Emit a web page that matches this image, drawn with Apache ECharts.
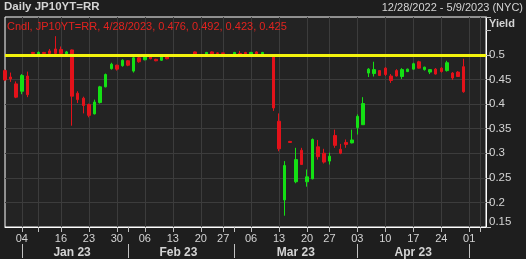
<!DOCTYPE html>
<html><head><meta charset="utf-8">
<script src="https://cdn.jsdelivr.net/npm/echarts@6/dist/echarts.min.js"></script>
<style>html,body{margin:0;padding:0;background:#1e1e1e;}#c{width:526px;height:259px;}</style>
</head><body><div id="c"></div>
<script>
// ---- data ----
const ric = 'JP10YT=RR';
const headerTitle = 'Daily JP10YT=RR';
const rangeText = '12/28/2022 - 5/9/2023 (NYC)';
const axisName = 'Yield';
const capLevel = 0.5;
const dates = [
 '2022-12-28','2022-12-29','2022-12-30',
 '2023-01-04','2023-01-05','2023-01-06',
 '2023-01-10','2023-01-11','2023-01-12','2023-01-13',
 '2023-01-16','2023-01-17','2023-01-18','2023-01-19','2023-01-20',
 '2023-01-23','2023-01-24','2023-01-25','2023-01-26','2023-01-27',
 '2023-01-30','2023-01-31','2023-02-01','2023-02-02','2023-02-03',
 '2023-02-06','2023-02-07','2023-02-08','2023-02-09','2023-02-10',
 '2023-02-13','2023-02-14','2023-02-15','2023-02-16','2023-02-17',
 '2023-02-20','2023-02-21','2023-02-22','2023-02-24',
 '2023-02-27','2023-02-28','2023-03-01','2023-03-02','2023-03-03',
 '2023-03-06','2023-03-07','2023-03-08','2023-03-09','2023-03-10',
 '2023-03-13','2023-03-14','2023-03-15','2023-03-16','2023-03-17',
 '2023-03-20','2023-03-22','2023-03-23','2023-03-24',
 '2023-03-27','2023-03-28','2023-03-29','2023-03-30','2023-03-31',
 '2023-04-03','2023-04-04','2023-04-05','2023-04-06','2023-04-07',
 '2023-04-10','2023-04-11','2023-04-12','2023-04-13','2023-04-14',
 '2023-04-17','2023-04-18','2023-04-19','2023-04-20','2023-04-21',
 '2023-04-24','2023-04-25','2023-04-26','2023-04-27','2023-04-28',
 '2023-05-01','2023-05-02','2023-05-08','2023-05-09'
];
const opens = [
 0.468,0.455,0.441,0.426,0.457,0.505,0.502,0.505,0.508,0.512,
 0.511,0.502,0.510,0.422,0.412,0.399,0.380,0.403,0.435,0.472,
 0.479,0.478,0.488,0.467,0.494,0.490,0.497,0.491,0.489,0.497,
 0.499,0.500,0.499,0.500,0.506,0.500,0.501,0.506,0.504,0.504,
 0.500,0.501,0.503,0.505,0.502,0.506,0.502,0.500,0.498,0.365,
 0.205,0.324,0.242,0.306,0.242,0.248,0.313,0.300,0.284,0.336,
 0.308,0.322,0.321,0.352,0.358,0.463,0.462,0.468,0.473,0.457,
 0.468,0.456,0.466,0.471,0.486,0.470,0.465,0.471,0.473,0.468,
 0.463,0.465,0.476
];
const closes = [
 0.449,0.451,0.414,0.458,0.419,0.503,0.505,0.503,0.503,0.503,
 0.503,0.506,0.416,0.409,0.397,0.377,0.404,0.435,0.460,0.481,
 0.471,0.489,0.479,0.494,0.486,0.496,0.492,0.488,0.496,0.492,
 0.500,0.499,0.500,0.499,0.502,0.500,0.505,0.502,0.503,0.503,
 0.499,0.505,0.502,0.502,0.505,0.502,0.505,0.499,0.392,0.309,
 0.275,0.322,0.287,0.277,0.252,0.328,0.293,0.282,0.294,0.316,
 0.300,0.318,0.327,0.375,0.401,0.471,0.470,0.458,0.460,0.448,
 0.457,0.470,0.471,0.482,0.473,0.475,0.470,0.461,0.466,0.484,
 0.453,0.456,0.425
];
const lows = [
 0.447,0.445,0.412,0.420,0.414,0.499,0.499,0.500,0.500,0.499,
 0.502,0.500,0.356,0.402,0.381,0.373,0.379,0.401,0.434,0.470,
 0.468,0.476,0.477,0.464,0.484,0.489,0.491,0.487,0.488,0.491,
 0.498,0.498,0.498,0.498,0.499,0.499,0.499,0.499,0.500,0.500,
 0.498,0.499,0.502,0.500,0.499,0.499,0.499,0.498,0.386,0.304,
 0.173,0.322,0.239,0.277,0.232,0.247,0.287,0.279,0.277,0.311,
 0.298,0.311,0.320,0.338,0.358,0.455,0.456,0.457,0.457,0.443,
 0.456,0.451,0.465,0.470,0.472,0.468,0.461,0.460,0.464,0.466,
 0.449,0.455,0.423
];
const highs = [
 0.470,0.464,0.446,0.461,0.466,0.506,0.507,0.506,0.512,0.538,
 0.517,0.508,0.511,0.426,0.415,0.401,0.409,0.437,0.462,0.484,
 0.480,0.491,0.489,0.496,0.496,0.497,0.498,0.492,0.497,0.498,
 0.501,0.501,0.501,0.501,0.507,0.501,0.506,0.507,0.505,0.504,
 0.501,0.506,0.508,0.506,0.506,0.507,0.506,0.501,0.501,0.381,
 0.284,0.325,0.311,0.311,0.267,0.330,0.327,0.309,0.301,0.348,
 0.319,0.328,0.348,0.379,0.414,0.473,0.486,0.469,0.475,0.461,
 0.471,0.473,0.472,0.484,0.488,0.476,0.471,0.473,0.475,0.488,
 0.465,0.467,0.492
];
const weekTickDates = ['2023-01-04','2023-01-10','2023-01-16','2023-01-23','2023-01-30','2023-02-06','2023-02-13','2023-02-20','2023-02-27','2023-03-06','2023-03-13','2023-03-20','2023-03-27','2023-04-03','2023-04-10','2023-04-17','2023-04-24','2023-05-01','2023-05-08'];
const dayLabelDates = ['2023-01-04','2023-01-16','2023-01-23','2023-01-30','2023-02-06','2023-02-13','2023-02-20','2023-02-27','2023-03-06','2023-03-13','2023-03-20','2023-03-27','2023-04-03','2023-04-10','2023-04-17','2023-04-24','2023-05-01'];
const monthNames = ['Jan','Feb','Mar','Apr','May','Jun','Jul','Aug','Sep','Oct','Nov','Dec'];

// ---- derived ----
const last = closes.length - 1;
const weekSet = new Set(weekTickDates.map(d => dates.indexOf(d)));
const labelSet = new Set(dayLabelDates.map(d => dates.indexOf(d)));
const monthStartSet = new Set();
const monthGroups = {};
dates.forEach((d, i) => {
  const k = d.slice(0, 7);
  if (i > 0 && k !== dates[i - 1].slice(0, 7)) monthStartSet.add(i);
  (monthGroups[k] = monthGroups[k] || []).push(i);
});
const tickSet = new Set([...weekSet, ...monthStartSet]);
const monthLabelMap = new Map();
Object.keys(monthGroups).forEach(k => {
  const g = monthGroups[k];
  if (g.length >= 10) {
    const mid = Math.round((g[0] + g[g.length - 1]) / 2);
    monthLabelMap.set(mid, monthNames[+k.slice(5, 7) - 1] + ' ' + k.slice(2, 4));
  }
});
function usDate(d) { return (+d.slice(5, 7)) + '/' + (+d.slice(8, 10)) + '/' + d.slice(0, 4); }
const legendText = 'Cndl, ' + ric + ', ' + usDate(dates[last]) + ', ' +
  [opens[last], highs[last], lows[last], closes[last]].map(v => v.toFixed(3)).join(', ');
const candleData = opens.map((o, i) => [o, closes[i], lows[i], highs[i]]);

const UP = '#14e014', DOWN = '#e3121a', TXT = '#d4d4d4', TICK = '#c0c0c0';
const FONT = 'Liberation Sans';
const chart = echarts.init(document.getElementById('c'), null, {renderer: 'canvas'});
chart.setOption({
  backgroundColor: '#1e1e1e',
  animation: false,
  textStyle: {fontFamily: FONT},
  title: [
    {text: headerTitle, left: 4, top: 1, padding: 0, textStyle: {color: TXT, fontSize: 11.5, fontWeight: 'bold', fontFamily: FONT}},
    {text: rangeText, right: 3, top: 2, padding: 0, textStyle: {color: TXT, fontSize: 11, fontWeight: 'normal', fontFamily: FONT}},
    {text: legendText, left: 7, top: 21, padding: 0, textStyle: {color: '#e3231f', fontSize: 11, fontWeight: 'normal', fontFamily: FONT}},
    {text: axisName, left: 489, top: 18, padding: 0, textStyle: {color: TXT, fontSize: 11, fontWeight: 'bold', fontFamily: FONT}}
  ],
  grid: {left: 5, right: 40, top: 17, bottom: 31, show: true, backgroundColor: '#232323', borderColor: '#ffffff', borderWidth: 1},
  xAxis: [
    {
      type: 'category', data: dates, boundaryGap: false, gridIndex: 0,
      axisLine: {show: true, lineStyle: {color: '#ffffff'}},
      axisTick: {show: true, interval: (i) => tickSet.has(i), length: 5, lineStyle: {color: TICK}},
      axisLabel: {interval: (i) => labelSet.has(i), formatter: (v) => v.slice(8, 10), color: TXT, fontSize: 11, margin: 6, fontFamily: FONT},
      splitLine: {show: true, interval: (i) => weekSet.has(i), lineStyle: {color: '#3c3c3c'}}
    },
    {
      type: 'category', data: dates, boundaryGap: false, gridIndex: 0, position: 'bottom', offset: 17,
      axisLine: {show: false},
      axisTick: {show: true, interval: (i) => monthStartSet.has(i), length: 14, lineStyle: {color: TICK}},
      axisLabel: {interval: (i) => monthLabelMap.has(i), formatter: (v, i) => monthLabelMap.get(i) || '', color: TXT, fontSize: 12, fontWeight: 'bold', margin: 3, fontFamily: FONT},
      splitLine: {show: false}
    }
  ],
  yAxis: {
    type: 'value', position: 'right', min: 0.15, max: 0.577, interval: 0.05,
    axisLine: {show: true, lineStyle: {color: '#ffffff'}},
    axisTick: {show: true, length: 5, lineStyle: {color: TICK}},
    axisLabel: {
      color: TXT, fontSize: 11.5, margin: 3, fontFamily: FONT,
      formatter: (v) => {
        if (v > capLevel + 0.0001) return '';
        const s = String(+v.toFixed(2));
        return v < 0.151 ? '{lo|' + s + '}' : s;
      },
      rich: {lo: {color: TXT, fontSize: 11.5, fontFamily: FONT, padding: [0, 0, 10, 0]}}
    },
    splitLine: {show: true, lineStyle: {color: ['#3c3c3c','#3c3c3c','#3c3c3c','#3c3c3c','#3c3c3c','#3c3c3c','#3c3c3c','#3c3c3c','rgba(0,0,0,0)','rgba(0,0,0,0)']}}
  },
  series: [{
    type: 'candlestick', name: ric, xAxisIndex: 0, yAxisIndex: 0, barWidth: 3, clip: false,
    data: candleData,
    itemStyle: {color: UP, color0: DOWN, borderColor: UP, borderColor0: DOWN, borderColorDoji: DOWN, borderWidth: 1},
    markLine: {
      silent: true, symbol: ['none', 'none'], animation: false,
      data: [
        {yAxis: capLevel, lineStyle: {color: '#f2f20c', width: 3, type: 'solid'}, label: {show: false}},
        {yAxis: closes[last], lineStyle: {opacity: 0, width: 0}, label: {
          show: true, position: 'end', distance: 1, formatter: () => closes[last].toFixed(3),
          backgroundColor: '#e3120b', color: '#2a0000', fontWeight: 'bold', fontSize: 12, fontFamily: FONT,
          padding: [0, 8, 0, 2], lineHeight: 11
        }}
      ]
    }
  }]
});
</script></body></html>
